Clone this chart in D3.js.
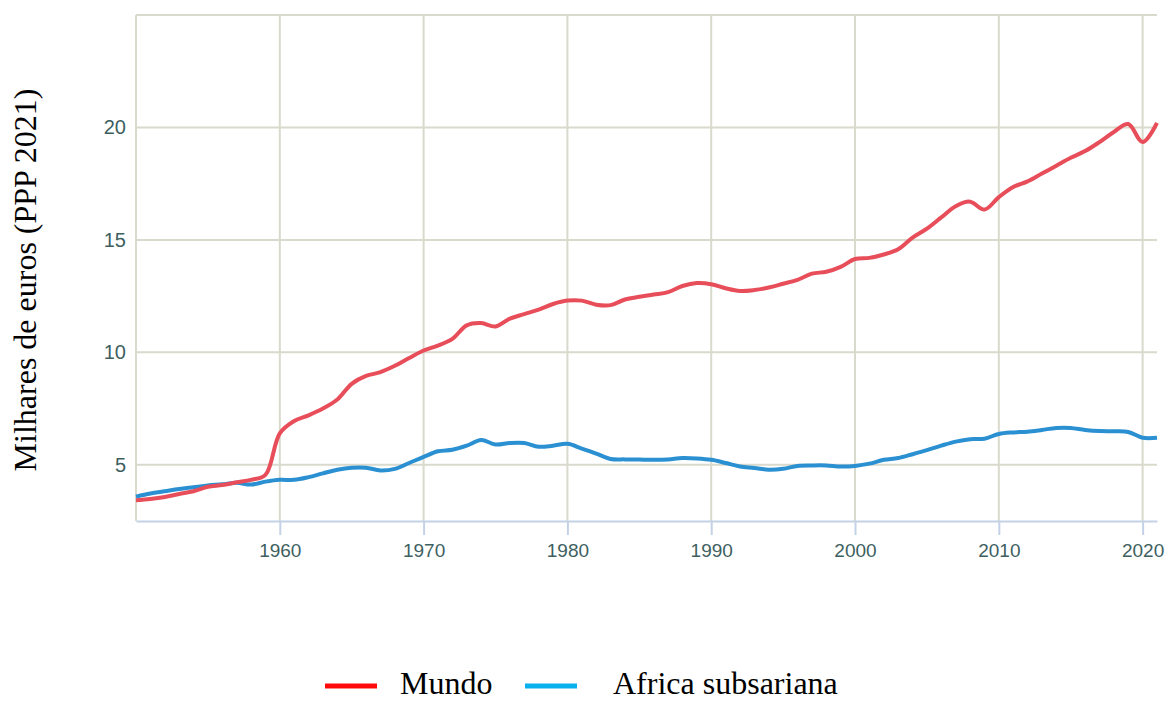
<!DOCTYPE html>
<html>
<head>
<meta charset="utf-8">
<script src="https://cdn.jsdelivr.net/npm/d3@7"></script>
<style>
  body { margin: 0; background: #fff; }
  svg { display: block; }
</style>
</head>
<body>
<script>
// anos e valores (milhares de euros, PPP 2021)
const years = d3.range(1950, 2022);
const mundo = [3.42, 3.48, 3.57, 3.7, 3.82, 4.02, 4.1, 4.22, 4.33, 4.55,
  6.4, 6.95, 7.2, 7.5, 7.9, 8.6, 8.95, 9.12, 9.4, 9.75,
  10.08, 10.3, 10.6, 11.2, 11.3, 11.15, 11.5, 11.7, 11.9, 12.15,
  12.3, 12.3, 12.12, 12.1, 12.35, 12.47, 12.57, 12.68, 12.95, 13.08,
  13.03, 12.85, 12.73, 12.77, 12.88, 13.05, 13.22, 13.5, 13.58, 13.8,
  14.15, 14.2, 14.35, 14.58, 15.1, 15.5, 16.0, 16.5, 16.7, 16.35,
  16.9, 17.35, 17.6, 17.95, 18.3, 18.65, 18.95, 19.35, 19.8, 20.15,
  19.35, 20.2];
const africa = [3.58, 3.72, 3.82, 3.92, 4.0, 4.08, 4.13, 4.2, 4.12, 4.25,
  4.33, 4.33, 4.45, 4.62, 4.78, 4.87, 4.87, 4.75, 4.82, 5.08,
  5.35, 5.6, 5.67, 5.85, 6.1, 5.9, 5.97, 5.97, 5.8, 5.85,
  5.93, 5.72, 5.5, 5.26, 5.24, 5.23, 5.22, 5.24, 5.3, 5.28,
  5.22, 5.08, 4.92, 4.86, 4.78, 4.82, 4.95, 4.97, 4.97, 4.92,
  4.95, 5.05, 5.22, 5.3, 5.47, 5.65, 5.85, 6.03, 6.14, 6.16,
  6.37, 6.44, 6.47, 6.55, 6.64, 6.64, 6.55, 6.5, 6.49, 6.46,
  6.2, 6.2];
const xTicks = [1960, 1970, 1980, 1990, 2000, 2010, 2020];
const yTicks = [5, 10, 15, 20];
const seriesNames = ["Mundo", "Africa subsariana"];

var width = 1170, height = 702;
var plotLeft = 136, plotRight = 1157, plotTop = 15, plotBottom = 521;

var svg = d3.select("body").append("svg")
    .attr("width", width).attr("height", height);

var x = d3.scaleLinear().domain([1950, 2021]).range([plotLeft, plotRight]);
var y = d3.scaleLinear().domain([2.5, 25]).range([plotBottom, plotTop]);

var gridColor = "#d9d9cc";

// grelha
svg.append("g").selectAll("line").data(xTicks).enter().append("line")
    .attr("x1", d => x(d)).attr("x2", d => x(d))
    .attr("y1", plotTop).attr("y2", plotBottom)
    .attr("stroke", gridColor).attr("stroke-width", 2);
svg.append("g").selectAll("line").data(yTicks.concat([25])).enter().append("line")
    .attr("x1", plotLeft).attr("x2", plotRight)
    .attr("y1", d => y(d)).attr("y2", d => y(d))
    .attr("stroke", gridColor).attr("stroke-width", 2);
svg.append("line")
    .attr("x1", plotLeft).attr("x2", plotLeft).attr("y1", plotTop).attr("y2", plotBottom)
    .attr("stroke", gridColor).attr("stroke-width", 2);

// eixo x
var xAxis = svg.append("g")
    .attr("transform", "translate(0," + plotBottom + ")")
    .call(d3.axisBottom(x).tickValues(xTicks).tickFormat(d3.format("d")).tickSize(14).tickSizeOuter(0).tickPadding(9));
xAxis.select(".domain").attr("stroke", "#c3d2e6").attr("stroke-width", 2);
xAxis.selectAll(".tick line").attr("stroke", "#c3d2e6").attr("stroke-width", 2);
xAxis.selectAll("text").attr("fill", "#3e5f5f")
    .style("font-family", "'Liberation Sans', Arial, sans-serif").style("font-size", "19px");

// eixo y
var yAxis = svg.append("g")
    .attr("transform", "translate(" + plotLeft + ",0)")
    .call(d3.axisLeft(y).tickValues(yTicks).tickSize(0).tickPadding(10));
yAxis.select(".domain").remove();
yAxis.selectAll("text").attr("fill", "#3e5f5f")
    .style("font-family", "'Liberation Sans', Arial, sans-serif").style("font-size", "20px");

svg.append("text")
    .attr("transform", "translate(36,280) rotate(-90)")
    .attr("text-anchor", "middle")
    .style("font-family", "'Liberation Serif', 'Times New Roman', serif")
    .style("font-size", "32px")
    .text("Milhares de euros (PPP 2021)");

// linhas
var line = d3.line().x((d, i) => x(years[i])).y(d => y(d)).curve(d3.curveCatmullRom);
svg.append("path").datum(africa)
    .attr("d", line).attr("fill", "none")
    .attr("stroke", "#2a90d2").attr("stroke-width", 4);
svg.append("path").datum(mundo)
    .attr("d", line).attr("fill", "none")
    .attr("stroke", "#e84d5a").attr("stroke-width", 4);

// legenda
var legColors = ["#ff0a0a", "#08b0ee"];
var legX = [325, 525];
var leg = svg.append("g").selectAll("g").data(seriesNames).enter().append("g")
    .attr("transform", (d, i) => "translate(" + legX[i] + ",686)");
leg.append("line").attr("x1", 0).attr("x2", 52).attr("y1", 0).attr("y2", 0)
    .attr("stroke", (d, i) => legColors[i]).attr("stroke-width", 5);
leg.append("text").attr("x", (d, i) => i == 0 ? 75 : 88).attr("y", 8)
    .style("font-family", "'Liberation Serif', 'Times New Roman', serif")
    .style("font-size", "32px").attr("fill", "#000")
    .text(d => d);
</script>
</body>
</html>
